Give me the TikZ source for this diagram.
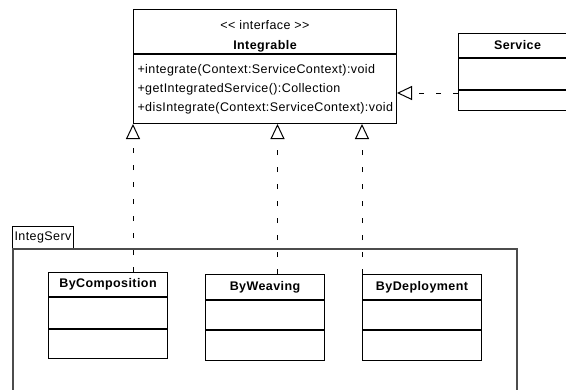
\documentclass[tikz,border=0pt]{standalone}
\usepackage{fontspec}
\setmainfont{Liberation Sans}[LetterSpace=3.3]
\usetikzlibrary{arrows.meta}

\begin{document}
\begin{tikzpicture}[x=1pt,y=-1pt]
        \clip (0,0) rectangle (566,389);

        % package frame
        \begin{scope}[every node/.style={draw,anchor=north west,inner sep=0pt,font=\fontsize{12.5}{15}\selectfont}]
            \node (tab) [line width=1pt,minimum width=61pt,minimum height=22pt] at (12,226) {IntegServ};
            \node (pkg) [draw=black!70,line width=1.5pt,minimum width=504pt,minimum height=190pt] at (12,248) {};
        \end{scope}

        % classes
        \begin{scope}[every node/.style={draw,line width=1pt,inner sep=0pt,anchor=north west,minimum width=119pt,font=\fontsize{12.5}{15}\selectfont\bfseries}]
            \node (ifc) [minimum width=263pt,minimum height=44pt,align=center] at (133,9) {\rule{0pt}{19pt}{\mdseries{<}{<} interface {>}{>}}\\[5pt]Integrable};
            \node (ifcOps) [minimum width=263pt,minimum height=69pt,text width=255pt,inner xsep=4pt,align=left,font=\fontsize{12.5}{19}\selectfont] at (ifc.south west) {+integrate(Context:ServiceContext):void\\+getIntegratedService():Collection\\+disIntegrate(Context:ServiceContext):void};

            \node (svc) [minimum width=118pt,minimum height=24pt] at (458,33) {Service};
            \node (svcA) [minimum width=118pt,minimum height=31pt] at (svc.south west) {};
            \node (svcO) [minimum width=118pt,minimum height=20pt] at (svcA.south west) {};

            \node (cmp) [minimum height=24pt] at (48,272) {ByComposition};
            \node (cmpA) [minimum height=31pt] at (cmp.south west) {};
            \node (cmpO) [minimum height=29pt] at (cmpA.south west) {};

            \node (wv) [minimum height=25pt] at (205,274) {ByWeaving};
            \node (wvA) [minimum height=29pt] at (wv.south west) {};
            \node (wvO) [minimum height=30pt] at (wvA.south west) {};

            \node (dep) [minimum height=25pt] at (362,274) {ByDeployment};
            \node (depA) [minimum height=29pt] at (dep.south west) {};
            \node (depO) [minimum height=30pt] at (depA.south west) {};
        \end{scope}

        % realizations
        \begin{scope}[>={Triangle[open,length=15pt,width=14pt,line width=1pt]},
                      every edge/.style={draw=black,line width=1pt,dash pattern=on 5pt off 12pt}]
            \path [->] (cmp.north -| ifcOps.south west) edge (ifcOps.south west);
            \path [->] ([xshift=12.5pt]wv.north) edge ([xshift=12.5pt]wv.north |- ifcOps.south);
            \path [->] (dep.north west) edge (dep.north west |- ifcOps.south);
            \path [->] ([yshift=-3pt]svcO.north west) edge ([yshift=-3pt]svcO.north west -| ifcOps.east);
        \end{scope}
    \end{tikzpicture}
\end{document}
